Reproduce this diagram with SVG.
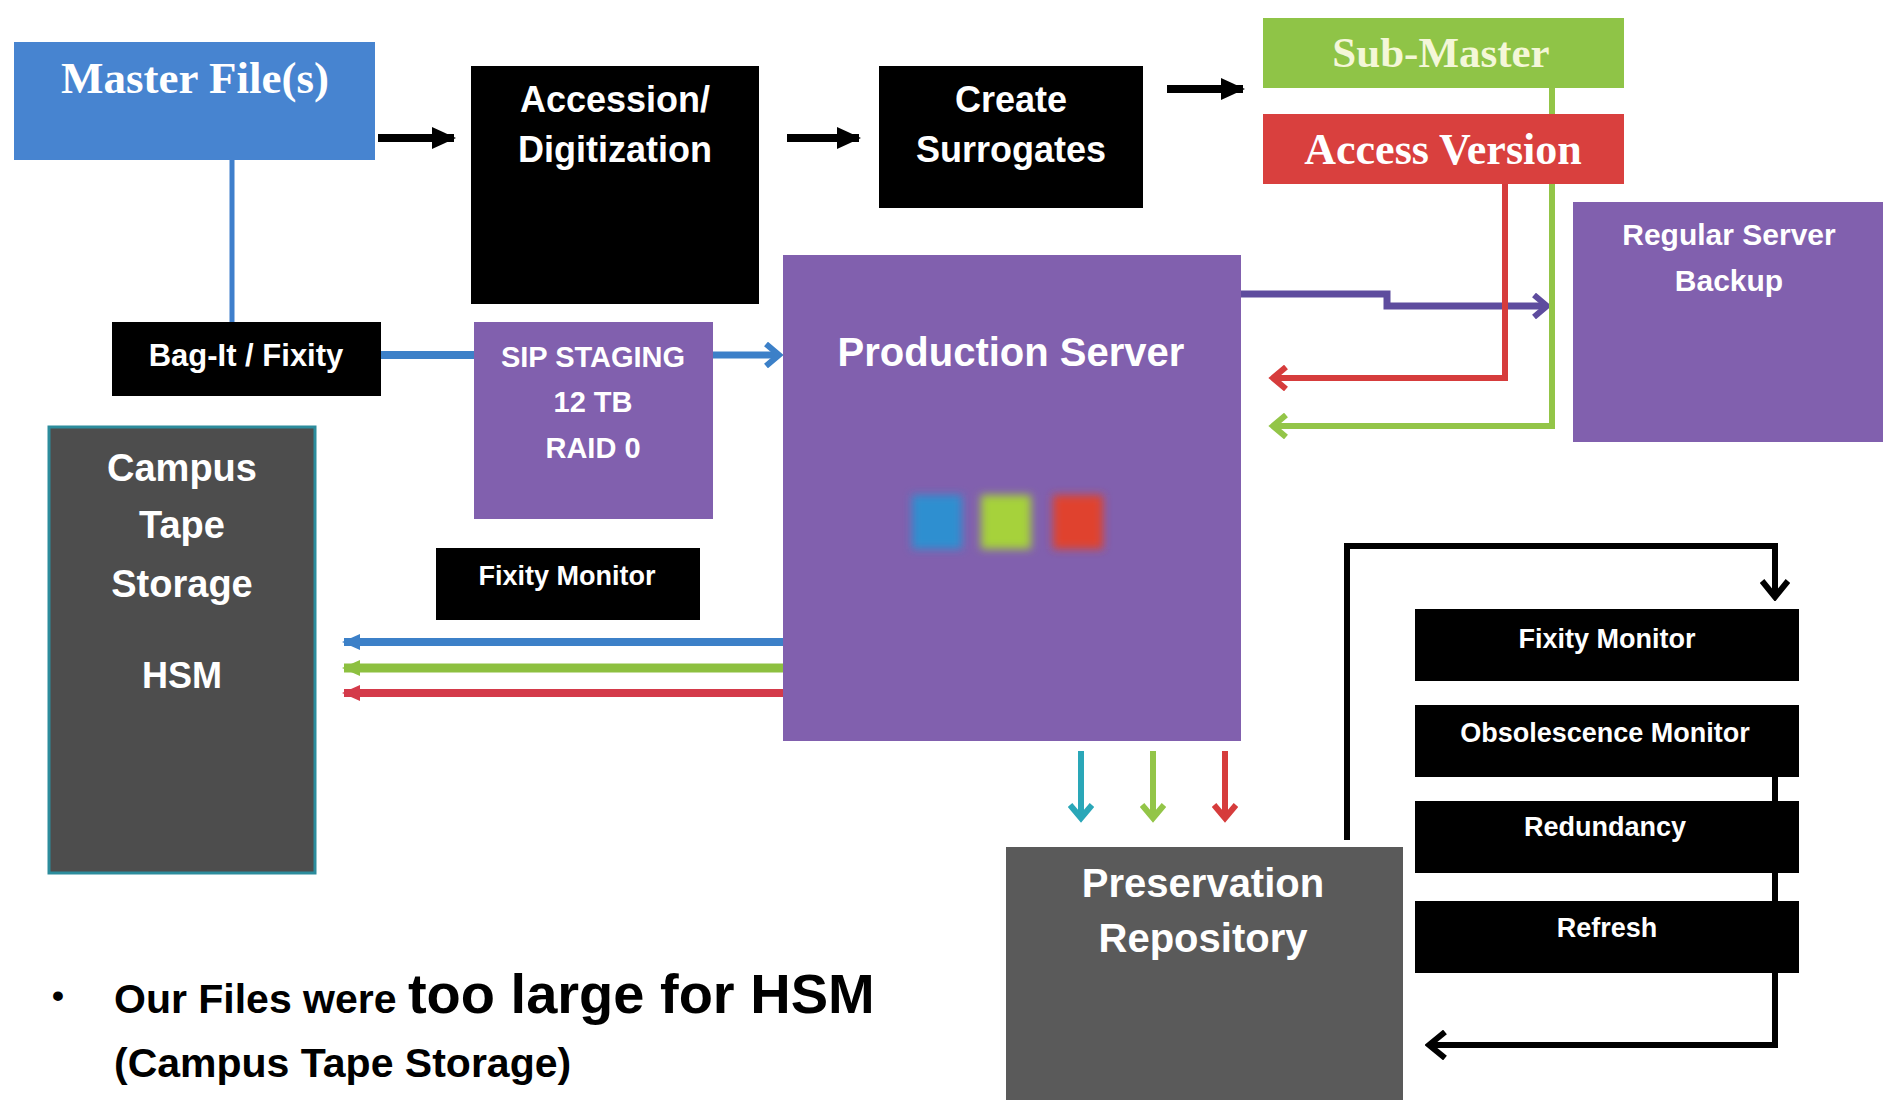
<svg xmlns="http://www.w3.org/2000/svg" width="1883" height="1100" viewBox="0 0 1883 1100">
<style>
.sans{font-family:"Liberation Sans",Arial,sans-serif;font-weight:bold;fill:#fff;text-anchor:middle}
.serif{font-family:"Liberation Serif","Times New Roman",serif;font-weight:bold;fill:#fff;text-anchor:middle}
.blk{fill:#000}
.pur{fill:#8160AE}
.gry{fill:#505050}
.ln{fill:none;stroke-linejoin:miter}
</style>
<defs>
<marker id="tri" markerUnits="userSpaceOnUse" viewBox="0 0 24 24" markerWidth="24" markerHeight="24" refX="22" refY="12" orient="auto"><path d="M0,1 L24,12 L0,23 Z" fill="#000"/></marker>
<marker id="chB" markerUnits="userSpaceOnUse" viewBox="0 0 22 26" markerWidth="22" markerHeight="26" refX="17" refY="13" orient="auto"><path d="M4,2 L17,13 L4,24" fill="none" stroke="#3C80C8" stroke-width="6"/></marker>
<marker id="chP" markerUnits="userSpaceOnUse" viewBox="0 0 22 26" markerWidth="22" markerHeight="26" refX="17" refY="13" orient="auto"><path d="M4,2 L17,13 L4,24" fill="none" stroke="#5E4C9E" stroke-width="6"/></marker>
<marker id="chR" markerUnits="userSpaceOnUse" viewBox="0 0 22 26" markerWidth="22" markerHeight="26" refX="17" refY="13" orient="auto"><path d="M4,2 L17,13 L4,24" fill="none" stroke="#D63C3C" stroke-width="6"/></marker>
<marker id="chG" markerUnits="userSpaceOnUse" viewBox="0 0 22 26" markerWidth="22" markerHeight="26" refX="17" refY="13" orient="auto"><path d="M4,2 L17,13 L4,24" fill="none" stroke="#93C548" stroke-width="6"/></marker>
<marker id="chT" markerUnits="userSpaceOnUse" viewBox="0 0 22 26" markerWidth="22" markerHeight="26" refX="17" refY="13" orient="auto"><path d="M4,2 L17,13 L4,24" fill="none" stroke="#2AA7B8" stroke-width="6"/></marker>
<marker id="chK" markerUnits="userSpaceOnUse" viewBox="0 0 24 30" markerWidth="24" markerHeight="30" refX="20" refY="15" orient="auto"><path d="M4,2 L20,15 L4,28" fill="none" stroke="#000" stroke-width="6"/></marker>
<marker id="tB" markerUnits="userSpaceOnUse" viewBox="0 0 18 18" markerWidth="18" markerHeight="18" refX="16" refY="9" orient="auto"><path d="M0,1 L18,9 L0,17 Z" fill="#3C80C8"/></marker>
<marker id="tG" markerUnits="userSpaceOnUse" viewBox="0 0 18 18" markerWidth="18" markerHeight="18" refX="16" refY="9" orient="auto"><path d="M0,1 L18,9 L0,17 Z" fill="#8DC040"/></marker>
<marker id="tR" markerUnits="userSpaceOnUse" viewBox="0 0 18 18" markerWidth="18" markerHeight="18" refX="16" refY="9" orient="auto"><path d="M0,1 L18,9 L0,17 Z" fill="#D43A4A"/></marker>
<filter id="blur" x="-30%" y="-30%" width="160%" height="160%"><feGaussianBlur stdDeviation="4"/></filter>
</defs>
<rect width="1883" height="1100" fill="#fff"/>

<g id="connectors" class="ln">
<line x1="378" y1="138" x2="454" y2="138" stroke="#000" stroke-width="8" marker-end="url(#tri)"/>
<line x1="787" y1="138" x2="859" y2="138" stroke="#000" stroke-width="8" marker-end="url(#tri)"/>
<line x1="1167" y1="89" x2="1243" y2="89" stroke="#000" stroke-width="8" marker-end="url(#tri)"/>
<line x1="232" y1="160" x2="232" y2="322" stroke="#3F7FCC" stroke-width="5"/>
<line x1="381" y1="355" x2="474" y2="355" stroke="#3C80C8" stroke-width="8"/>
<line x1="713" y1="355" x2="779" y2="355" stroke="#3C80C8" stroke-width="7" marker-end="url(#chB)"/>
<path d="M1241,294 H1387 V306 H1547" stroke="#5E4C9E" stroke-width="7" marker-end="url(#chP)"/>
<path d="M1552,88 V426 H1273" stroke="#93C548" stroke-width="6" marker-end="url(#chG)"/>
<path d="M1505,184 V378 H1273" stroke="#D63C3C" stroke-width="6" marker-end="url(#chR)"/>
<path d="M783,642 H344" stroke="#3C80C8" stroke-width="8" marker-end="url(#tB)"/>
<path d="M783,668 H344" stroke="#8DC040" stroke-width="9" marker-end="url(#tG)"/>
<path d="M783,693 H344" stroke="#D43A4A" stroke-width="8" marker-end="url(#tR)"/>
<path d="M1081,751 V818" stroke="#2AA7B8" stroke-width="6" marker-end="url(#chT)"/>
<path d="M1153,751 V818" stroke="#93C548" stroke-width="6" marker-end="url(#chG)"/>
<path d="M1225,751 V818" stroke="#D63C3C" stroke-width="6" marker-end="url(#chR)"/>
<path d="M1347,840 V546 H1775 V597" stroke="#000" stroke-width="6" marker-end="url(#chK)"/>
<path d="M1775,740 V1045 H1429" stroke="#000" stroke-width="6" marker-end="url(#chK)"/>
</g>

<g id="master-files"><rect x="14" y="42" width="361" height="118" fill="#4784D0"/><text class="serif" x="195" y="93" font-size="45">Master File(s)</text></g>
<g id="accession"><rect class="blk" x="471" y="66" width="288" height="238"/><text class="sans" x="615" y="112" font-size="36">Accession/</text><text class="sans" x="615" y="162" font-size="36">Digitization</text></g>
<g id="create-surrogates"><rect class="blk" x="879" y="66" width="264" height="142"/><text class="sans" x="1011" y="112" font-size="36">Create</text><text class="sans" x="1011" y="162" font-size="36">Surrogates</text></g>
<g id="sub-master"><rect x="1263" y="18" width="361" height="70" fill="#8FC447"/><text class="serif" x="1441" y="67" font-size="43" style="fill:#F4F7D8">Sub-Master</text></g>
<g id="access-version"><rect x="1263" y="114" width="361" height="70" fill="#D9403E"/><text class="serif" x="1443" y="164" font-size="44">Access Version</text></g>
<g id="regular-server-backup"><rect class="pur" x="1573" y="202" width="310" height="240"/><text class="sans" x="1729" y="245" font-size="30">Regular Server</text><text class="sans" x="1729" y="291" font-size="30">Backup</text></g>
<g id="production-server"><rect class="pur" x="783" y="255" width="458" height="486"/><text class="sans" x="1011" y="366" font-size="40">Production Server</text>
<g filter="url(#blur)"><rect x="912" y="495" width="50" height="54" fill="#2E8FD0"/><rect x="981" y="495" width="50" height="54" fill="#A6D23A"/><rect x="1053" y="495" width="50" height="54" fill="#E0432F"/></g></g>
<g id="bag-it"><rect class="blk" x="112" y="322" width="269" height="74"/><text class="sans" x="246" y="366" font-size="31">Bag-It / Fixity</text></g>
<g id="sip-staging"><rect class="pur" x="474" y="322" width="239" height="197"/><text class="sans" x="593" y="367" font-size="29">SIP STAGING</text><text class="sans" x="593" y="412" font-size="29">12 TB</text><text class="sans" x="593" y="458" font-size="29">RAID 0</text></g>
<g id="fixity-monitor-left"><rect class="blk" x="436" y="548" width="264" height="72"/><text class="sans" x="567" y="585" font-size="27">Fixity Monitor</text></g>
<g id="campus-tape"><rect x="49" y="427" width="266" height="446" fill="#4D4D4D" stroke="#2C8C9C" stroke-width="3"/><text class="sans" x="182" y="481" font-size="38">Campus</text><text class="sans" x="182" y="538" font-size="38">Tape</text><text class="sans" x="182" y="597" font-size="38">Storage</text><text class="sans" x="182" y="688" font-size="36">HSM</text></g>
<g id="preservation-repository"><rect x="1006" y="847" width="397" height="253" fill="#5A5A5A"/><text class="sans" x="1203" y="897" font-size="40">Preservation</text><text class="sans" x="1203" y="952" font-size="40">Repository</text></g>
<g id="fixity-monitor-right"><rect class="blk" x="1415" y="609" width="384" height="72"/><text class="sans" x="1607" y="648" font-size="27">Fixity Monitor</text></g>
<g id="obsolescence-monitor"><rect class="blk" x="1415" y="705" width="384" height="72"/><text class="sans" x="1605" y="742" font-size="27">Obsolescence Monitor</text></g>
<g id="redundancy"><rect class="blk" x="1415" y="801" width="384" height="72"/><text class="sans" x="1605" y="836" font-size="27">Redundancy</text></g>
<g id="refresh"><rect class="blk" x="1415" y="901" width="384" height="72"/><text class="sans" x="1607" y="937" font-size="27">Refresh</text></g>

<g id="note" font-family="'Liberation Sans',Arial,sans-serif" font-weight="bold" fill="#000">
<text x="52" y="1007" font-size="34">•</text>
<text x="114" y="1013"><tspan font-size="41">Our Files were </tspan><tspan font-size="56">too large for HSM</tspan></text>
<text x="114" y="1077" font-size="41">(Campus Tape Storage)</text>
</g>
</svg>
